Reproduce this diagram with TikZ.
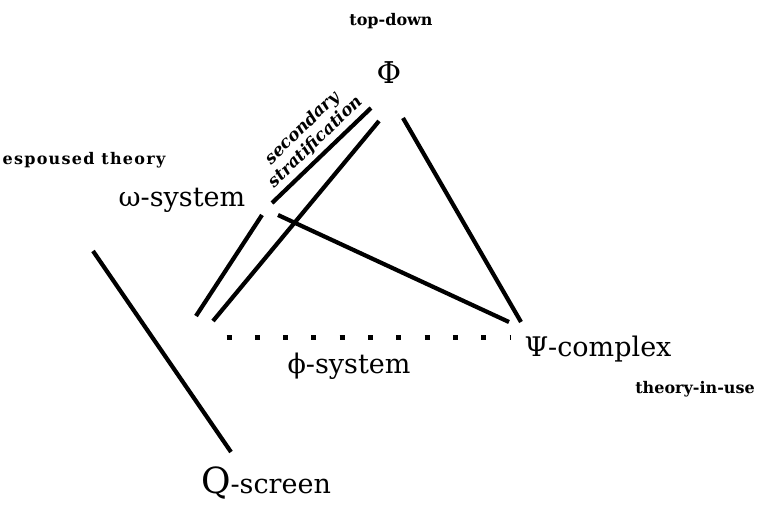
\documentclass[tikz,border=0pt]{standalone}
\usepackage{fontspec}
\setmainfont{DejaVu Serif}
\usepackage{tikz}

\begin{document}
\begin{tikzpicture}[x=1pt,y=-1pt,
    link/.style={line width=4.2pt},
    biglabel/.style={inner sep=0,anchor=base,font=\fontsize{27}{30}\selectfont},
    note/.style={inner sep=0,anchor=base,font=\bfseries\fontsize{16}{18}\selectfont}]
      \useasboundingbox (0,0) rectangle (759,511);
      % labels
      \node[note] (topdown) at (391,26) {top-down};
      \node[inner sep=0,anchor=base,font=\fontsize{30}{32}\selectfont] (Phi) at (389,83) {Φ};
      \node[note] (espoused) at (84,164) {\addfontfeatures{LetterSpace=8}espoused theory};
      \node[biglabel] (omega) at (182,206) {ω-system};
      \node[biglabel] (phi) at (349,373) {ϕ-system};
      \node[biglabel] (Psi) at (598,356) {Ψ-complex};
      \node[note] (inuse) at (695,393) {theory-in-use};
      \node[biglabel] (Q) at (266,493) {{\fontsize{36}{38}\selectfont Q}-screen};
      \node[inner sep=0,rotate=44,align=center,font=\bfseries\itshape\fontsize{17}{19}\selectfont]
        (strat) at (309,135) {secondary\\stratification};
      % end points of the links
      \coordinate (a1) at (371,108); \coordinate (a2) at (272,203);
      \coordinate (b1) at (379,121); \coordinate (b2) at (213,321);
      \coordinate (c1) at (262,215); \coordinate (c2) at (196,316);
      \coordinate (d1) at (278,215); \coordinate (d2) at (509,322);
      \coordinate (e1) at (403,118); \coordinate (e2) at (521,322);
      \coordinate (f1) at (93,251);  \coordinate (f2) at (231,452);
      \coordinate (g1) at (226.5,337); \coordinate (g2) at (511,337);
      \draw[link] (a1) -- (a2);
      \draw[link] (b1) -- (b2);
      \draw[link] (c1) -- (c2);
      \draw[link] (d1) -- (d2);
      \draw[link] (e1) -- (e2);
      \draw[link] (f1) -- (f2);
      \draw[line width=5pt,dash pattern=on 5pt off 23.3pt] (g1) -- (g2);
    \end{tikzpicture}
\end{document}
